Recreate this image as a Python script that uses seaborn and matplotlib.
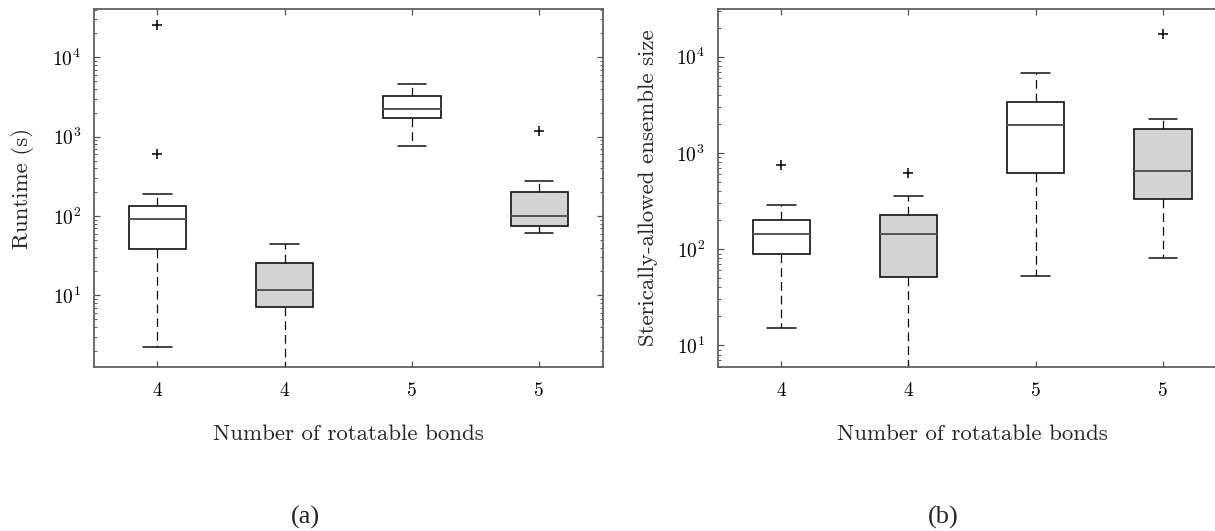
import numpy as np
import pandas as pd
import matplotlib
matplotlib.use("Agg")
import matplotlib.pyplot as plt
import seaborn as sns

# ---------------- data ----------------
groups = ["4a", "4b", "5a", "5b"]
tick_labels = ["4", "4", "5", "5"]
box_fill = {"4a": "white", "4b": "#d3d3d3", "5a": "white", "5b": "#d3d3d3"}

# five-number summaries: [lower whisker, Q1, median, Q3, upper whisker]
runtime_4a = [2.25, 38, 91, 135, 191]
runtime_4b = [1.0, 7.1, 11.8, 25.8, 44]
runtime_5a = [771, 1706, 2250, 3290, 4580]
runtime_5b = [61, 74.8, 100, 203, 276]
runtime_out_grp = ["4a", "4a", "5b"]
runtime_out_val = [611, 25300, 1170]

ens_4a = [15.0, 90, 144, 199, 289]
ens_4b = [4.0, 51, 144, 224, 353]
ens_5a = [52.7, 620, 1970, 3360, 6710]
ens_5b = [80.6, 329, 655, 1790, 2270]
ens_out_grp = ["4a", "4b", "5b"]
ens_out_val = [750, 620, 17200]


def long_df(vals_list):
    rows = []
    for g, vals in zip(groups, vals_list):
        for v in vals:
            rows.append((g, v))
    return pd.DataFrame(rows, columns=["grp", "val"])


df_run = long_df([runtime_4a, runtime_4b, runtime_5a, runtime_5b])
df_run_out = pd.DataFrame({"grp": runtime_out_grp, "val": runtime_out_val})
df_ens = long_df([ens_4a, ens_4b, ens_5a, ens_5b])
df_ens_out = pd.DataFrame({"grp": ens_out_grp, "val": ens_out_val})

# ---------------- style ----------------
sns.set_style("ticks")
plt.rcParams["font.family"] = "serif"
plt.rcParams["font.serif"] = ["cmr10", "DejaVu Serif"]
plt.rcParams["mathtext.fontset"] = "cm"
plt.rcParams["axes.formatter.use_mathtext"] = True
plt.rcParams["axes.unicode_minus"] = False

fig = plt.figure(figsize=(12.15, 5.31), dpi=100)
ax1 = fig.add_axes([0.0772, 0.3094, 0.4189, 0.6731])
ax2 = fig.add_axes([0.5906, 0.3094, 0.4189, 0.6731])


def draw(ax, df, df_out, ylim, ylabel):
    ax.set_yscale("log")
    sns.boxplot(
        data=df, x="grp", y="val", hue="grp", order=groups, hue_order=groups,
        palette=box_fill, saturation=1, legend=False, width=0.45,
        whis=(0, 100), linecolor="#111111", linewidth=1.2, ax=ax,
        medianprops={"color": "#555555", "linewidth": 1.4},
        whiskerprops={"color": "#111111", "linestyle": (0, (7, 4)), "linewidth": 0.9},
        capprops={"color": "#111111", "linewidth": 1.1},
        showfliers=False,
    )
    sns.stripplot(
        data=df_out, x="grp", y="val", order=groups, jitter=False,
        marker="+", color="black", size=7, linewidth=1.1, ax=ax,
    )
    ax.set_xlim(-0.5, 3.5)
    ax.set_ylim(*ylim)
    ax.set_xticks(range(len(groups)))
    ax.set_xticklabels(tick_labels)
    ax.tick_params(axis="both", which="both", direction="in", top=True, right=True,
                   colors="#555555", labelcolor="black")
    ax.tick_params(axis="both", which="major", length=4, width=0.9, labelsize=14)
    ax.tick_params(axis="y", which="minor", length=2.2, width=0.7)
    ax.tick_params(axis="x", which="major", pad=11)
    ax.tick_params(axis="y", which="major", pad=9)
    for s in ax.spines.values():
        s.set_color("#606060")
        s.set_linewidth(1.3)
    ax.set_xlabel("Number of rotatable bonds", fontsize=16.5, labelpad=18)
    ax.set_ylabel(ylabel, fontsize=16.5, labelpad=13)


draw(ax1, df_run, df_run_out, (1.26, 40300), "Runtime (s)")
draw(ax2, df_ens, df_ens_out, (6.0, 31100), "Sterically-allowed ensemble size")

fig.text(305 / 1215, 14 / 531, "(a)", ha="center", va="center", fontsize=19,
         family=["Liberation Serif", "DejaVu Serif"])
fig.text(943 / 1215, 14 / 531, "(b)", ha="center", va="center", fontsize=19,
         family=["Liberation Serif", "DejaVu Serif"])

fig.savefig("out.png", dpi=100)
